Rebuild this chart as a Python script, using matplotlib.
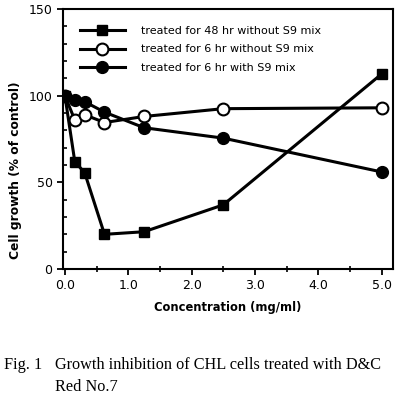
import matplotlib
matplotlib.use("Agg")
import matplotlib.pyplot as plt
from matplotlib.ticker import MultipleLocator

conc = [0.0, 0.156, 0.3125, 0.625, 1.25, 2.5, 5.0]
s48_noS9 = [100, 62, 55.5, 20, 21.5, 37, 112.5]
s6_noS9 = [100, 86, 89, 84.5, 88, 92.5, 93]
s6_S9 = [100, 97.5, 96.5, 90.5, 81.5, 75.5, 56]
labels = ["treated for 48 hr without S9 mix",
          "treated for 6 hr without S9 mix",
          "treated for 6 hr with S9 mix"]
xticks = [0.0, 1.0, 2.0, 3.0, 4.0, 5.0]
yticks = [0, 50, 100, 150]

plt.rcParams['font.family'] = ['DejaVu Sans']
fig = plt.figure(figsize=(4.03, 3.97), dpi=100)
ax = fig.add_axes([63/403, 1-269/397, 330/403, 260/397])

ax.plot(conc, s48_noS9, color='black', lw=2.2, marker='s', ms=6.5,
        mfc='black', mec='black', label=labels[0], zorder=3)
ax.plot(conc, s6_noS9, color='black', lw=2.2, marker='o', ms=8.5,
        mfc='white', mec='black', mew=1.5, label=labels[1], zorder=4)
ax.plot(conc, s6_S9, color='black', lw=2.2, marker='o', ms=8.5,
        mfc='black', mec='black', label=labels[2], zorder=5)

ax.set_xlim(-0.03, 5.18)
ax.set_ylim(0, 150)
ax.set_xticks(xticks)
ax.set_xticklabels([f"{v:.1f}" for v in xticks])
ax.set_yticks(yticks)
ax.xaxis.set_minor_locator(MultipleLocator(0.5))
ax.yaxis.set_minor_locator(MultipleLocator(10))
ax.tick_params(axis='both', which='major', direction='out', length=4, width=1.3, labelsize=9)
ax.tick_params(axis='x', which='minor', direction='inout', length=4, width=1.2)
ax.tick_params(axis='y', which='minor', direction='in', length=3, width=1.2)
for s in ax.spines.values():
    s.set_linewidth(1.5)

ax.set_xlabel("Concentration (mg/ml)", fontsize=8.3, fontweight='bold', labelpad=6)
ax.set_ylabel("Cell growth (% of control)", fontsize=8.8, fontweight='bold')
ax.yaxis.set_label_coords(-0.125, 0.38)

leg = ax.legend(loc='upper left', bbox_to_anchor=(0.03, 0.96), frameon=False,
                fontsize=8, handlelength=4.1, handletextpad=1.4,
                labelspacing=0.75, borderaxespad=0.2)

cap = dict(family='Liberation Serif', fontsize=11.7, va='center')
fig.text(4/403, 1-365/397, "Fig. 1", **cap)
fig.text(55/403, 1-365/397, "Growth inhibition of CHL cells treated with D&C", **cap)
fig.text(55/403, 1-387/397, "Red No.7", **cap)

fig.savefig("out.png", dpi=100)
